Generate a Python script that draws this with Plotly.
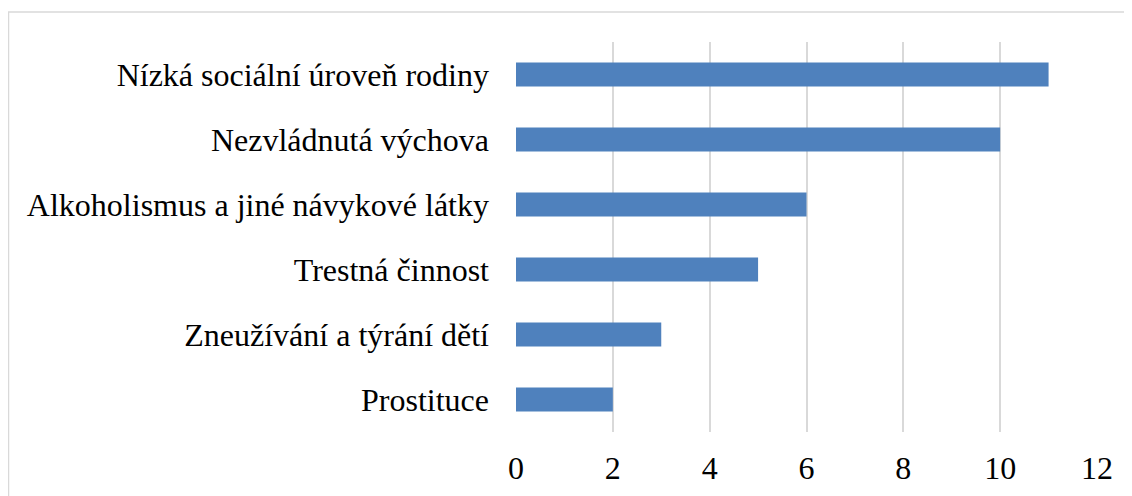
import plotly.graph_objects as go

categories = ["Nízká sociální úroveň rodiny", "Nezvládnutá výchova",
              "Alkoholismus a jiné návykové látky", "Trestná činnost",
              "Zneužívání a týrání dětí", "Prostituce"]
values = [11, 10, 6, 5, 3, 2]
tick_vals = [0, 2, 4, 6, 8, 10, 12]

W, H = 1132, 496
# page has an 8px body offset
L, R, T, B = 508, 43, 34, 72

fig = go.Figure(go.Bar(
    y=categories, x=values, orientation="h",
    marker=dict(color="#4f81bd", line=dict(width=0)),
    width=0.37,
))

pw = W - L - R
ph = H - T - B
fig.add_shape(type="rect", xref="paper", yref="paper",
              x0=(0.5 - L) / pw, x1=(W + 20 - L) / pw,
              y0=-(B + 20) / ph, y1=(H - B - 4) / ph,
              line=dict(color="#d9d9d9", width=1.5), fillcolor="rgba(0,0,0,0)", layer="below")

serif = "Liberation Serif, Times New Roman, Times, serif"
fig.update_layout(
    width=W, height=H,
    margin=dict(l=L, r=R, t=T, b=B, pad=0, autoexpand=False),
    plot_bgcolor="white", paper_bgcolor="white",
    font=dict(family=serif, color="black", size=32),
    showlegend=False,
    xaxis=dict(range=[0, 12], tickvals=tick_vals, showgrid=True, gridcolor="#d9d9d9",
               gridwidth=2, zeroline=False, showline=False, ticks="",
               tickfont=dict(family=serif, size=32), ticklabelstandoff=14),
    yaxis=dict(categoryorder="array", categoryarray=categories[::-1], showgrid=False,
               zeroline=False, showline=False, ticks="", tickfont=dict(family=serif, size=32),
               ticklabelstandoff=26),
)

fig.write_html("out.html")
